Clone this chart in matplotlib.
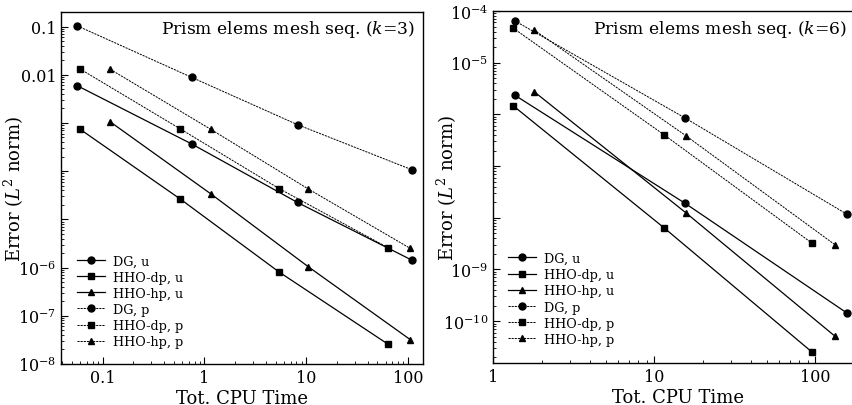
import matplotlib
matplotlib.use("Agg")
import matplotlib.pyplot as plt
from matplotlib.ticker import LogLocator, FixedLocator, FuncFormatter, NullFormatter
import numpy as np

plt.rcParams['font.family'] = ['DejaVu Serif']
plt.rcParams['mathtext.fontset'] = 'dejavuserif'

labels = ["DG, u", "HHO-dp, u", "HHO-hp, u", "DG, p", "HHO-dp, p", "HHO-hp, p"]
markers = ["o", "s", "^", "o", "s", "^"]
styles = ["-", "-", "-", "--", "--", "--"]

# k = 3
t3_dg = [0.0565, 0.75, 8.2, 110]
t3_dp = [0.0595, 0.58, 5.4, 63]
t3_hp = [0.119, 1.15, 10.4, 105]
e3_dg_u = [5.9e-3, 3.66e-4, 2.24e-5, 1.41e-6]
e3_dp_u = [7.5e-4, 2.63e-5, 8.1e-7, 2.6e-8]
e3_hp_u = [1.05e-3, 3.4e-5, 1.05e-6, 3.2e-8]
e3_dg_p = [0.103, 8.8e-3, 9.2e-4, 1.06e-4]
e3_dp_p = [1.33e-2, 7.5e-4, 4.36e-5, 2.6e-6]
e3_hp_p = [1.29e-2, 7.4e-4, 4.3e-5, 2.5e-6]

# k = 6
t6_dg = [1.36, 15.6, 157]
t6_dp = [1.33, 11.6, 96]
t6_hp = [1.8, 15.7, 133]
e6_dg_u = [2.37e-6, 1.9e-8, 1.45e-10]
e6_dp_u = [1.48e-6, 6.3e-9, 2.5e-11]
e6_hp_u = [2.75e-6, 1.26e-8, 5.1e-11]
e6_dg_p = [6.5e-5, 8.5e-7, 1.18e-8]
e6_dp_p = [4.7e-5, 3.98e-7, 3.2e-9]
e6_hp_p = [4.3e-5, 3.9e-7, 3.0e-9]

# tick decades and labels
x3_ticks = [0.1, 1, 10, 100]
x3_labels = ["0.1", "1", "10", "100"]
y3_ticks = [1e-1, 1e-2, 1e-3, 1e-4, 1e-5, 1e-6, 1e-7, 1e-8]
y3_labels = ["0.1", "0.01", "", "", "", r"$10^{-6}$", r"$10^{-7}$", r"$10^{-8}$"]
x6_ticks = [1, 10, 100]
x6_labels = ["1", "10", "100"]
y6_ticks = [1e-4, 1e-5, 1e-6, 1e-7, 1e-8, 1e-9, 1e-10]
y6_labels = [r"$10^{-4}$", r"$10^{-5}$", "", "", "", r"$10^{-9}$", r"$10^{-10}$"]

titles = ["Prism elems mesh seq. ($k$=3)", "Prism elems mesh seq. ($k$=6)"]

fig = plt.figure(figsize=(8.53, 4.06), dpi=100)
axL = fig.add_axes([0.0715, 0.101, 0.4244, 0.867])
axR = fig.add_axes([0.578, 0.1034, 0.4344, 0.867])

datasets = [
    (axL, [t3_dg, t3_dp, t3_hp, t3_dg, t3_dp, t3_hp],
     [e3_dg_u, e3_dp_u, e3_hp_u, e3_dg_p, e3_dp_p, e3_hp_p],
     (0.039, 140), (1e-8, 0.2), x3_ticks, x3_labels, y3_ticks, y3_labels,
     -0.097, (0.030, 0.030), 415 / 853),
    (axR, [t6_dg, t6_dp, t6_hp, t6_dg, t6_dp, t6_hp],
     [e6_dg_u, e6_dp_u, e6_hp_u, e6_dg_p, e6_dp_p, e6_hp_p],
     (1, 200), (10 ** -10.81, 1e-4), x6_ticks, x6_labels, y6_ticks, y6_labels,
     -0.092, (0.027, 0.034), 847 / 853),
]

for i, (ax, ts, es, xl, yl, xt, xtl, yt, ytl, ylx, legpos, tx) in enumerate(datasets):
    for t, e, lab, m, ls in zip(ts, es, labels, markers, styles):
        kw = dict(color="black", marker=m, markersize=5, label=lab)
        if ls == "--":
            ax.plot(t, e, linestyle=(0, (2.2, 1.0)), linewidth=0.7, **kw)
        else:
            ax.plot(t, e, linestyle="-", linewidth=0.9, **kw)
    ax.set_xscale("log")
    ax.set_yscale("log")
    ax.set_xlim(*xl)
    ax.set_ylim(*yl)
    ax.set_xticks(xt)
    ax.set_xticklabels(xtl)
    ax.set_yticks(yt)
    ax.set_yticklabels(ytl)
    ax.yaxis.set_minor_locator(LogLocator(base=10, subs=np.arange(2, 10), numticks=20))
    ax.yaxis.set_minor_formatter(NullFormatter())
    ax.xaxis.set_minor_locator(LogLocator(base=10, subs=np.arange(2, 10), numticks=20))
    ax.xaxis.set_minor_formatter(NullFormatter())
    ax.tick_params(which="both", direction="in", top=False, right=False, labelsize=11.5)
    ax.tick_params(which="major", length=5, width=0.8)
    ax.tick_params(which="minor", length=2.5, width=0.6)
    for s in ax.spines.values():
        s.set_linewidth(1.0)
    ax.set_xlabel("Tot. CPU Time", fontsize=13, labelpad=2)
    ax.set_ylabel(r"Error ($L^2$ norm)", fontsize=13)
    ax.yaxis.set_label_coords(ylx, 0.5)
    fig.text(tx, 1 - 30 / 406, titles[i], ha="right", va="center", fontsize=12.3)
    ax.legend(loc="lower left", bbox_to_anchor=legpos, frameon=False, fontsize=9.2,
              handlelength=2.2, labelspacing=0.25, borderaxespad=0.0,
              handletextpad=0.6)

plt.savefig("out.png", dpi=100)
